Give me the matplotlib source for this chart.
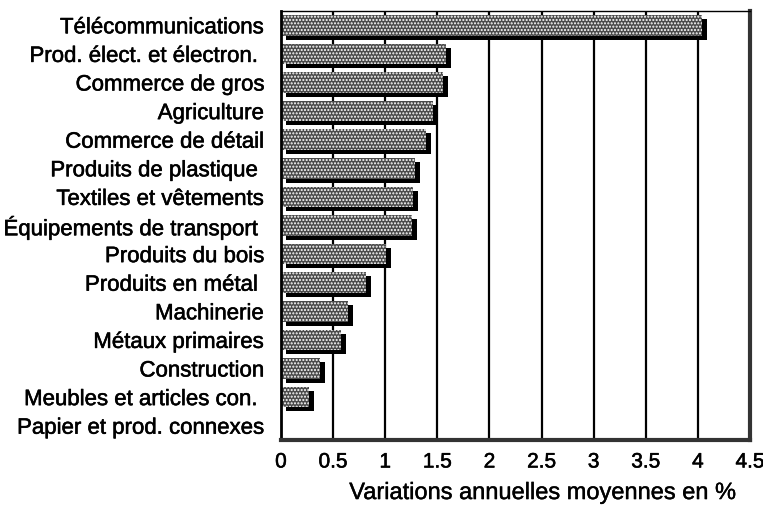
import matplotlib
matplotlib.use("Agg")
import matplotlib.pyplot as plt
import matplotlib.transforms as mtransforms
import matplotlib.patheffects as pe
import numpy as np

categories = [
    "Télécommunications",
    "Prod. élect. et électron. ",
    "Commerce de gros",
    "Agriculture",
    "Commerce de détail",
    "Produits de plastique ",
    "Textiles et vêtements",
    "Équipements de transport ",
    "Produits du bois",
    "Produits en métal ",
    "Machinerie",
    "Métaux primaires",
    "Construction",
    "Meubles et articles con. ",
    "Papier et prod. connexes",
]
values = [4.04, 1.58, 1.55, 1.46, 1.39, 1.29, 1.27, 1.26, 1.01, 0.82, 0.64, 0.58, 0.37, 0.27, 0.0]
xticks = [0, 0.5, 1, 1.5, 2, 2.5, 3, 3.5, 4, 4.5]
xticklabels = ["0", "0.5", "1", "1.5", "2", "2.5", "3", "3.5", "4", "4.5"]
xlabel = "Variations annuelles moyennes en %"

plt.rcParams['font.family'] = ['Liberation Sans', 'DejaVu Sans']
plt.rcParams['hatch.linewidth'] = 1.0

fig = plt.figure(figsize=(7.63, 5.06), dpi=100)
ax = fig.add_axes([281/763, 1-441/506, (750-281)/763, (441-12)/506])

y = np.arange(len(categories))
h = 0.72

# shadows
offset = mtransforms.ScaledTranslation(5/100, -4/100, fig.dpi_scale_trans)
shadows = ax.barh(y, values, height=h, color='black', linewidth=0, zorder=3)
for p in shadows:
    p.set_transform(ax.transData + offset)

bars = ax.barh(y, values, height=h, facecolor='#4a4a4a', edgecolor='white',
               hatch='.....', linewidth=0, zorder=4)

ax.set_ylim(len(categories) - 0.5, -0.5)
ax.set_xlim(0, 4.5)
ax.set_yticks(y)
ax.set_yticklabels(categories, fontsize=16)
ax.set_xticks(xticks)
ax.set_xticklabels(xticklabels, fontsize=15)
ax.tick_params(axis='both', length=0)
ax.tick_params(axis='y', pad=12)
ax.tick_params(axis='x', pad=9)

stroke = [pe.withStroke(linewidth=0.4, foreground='black')]
for t in ax.get_yticklabels() + ax.get_xticklabels():
    t.set_path_effects(stroke)

for xv in xticks[1:-1]:
    ax.axvline(xv, color='black', linewidth=1.6, zorder=1)

ax.spines['top'].set_linewidth(1.0)
ax.spines['left'].set_linewidth(2.0)
ax.spines['bottom'].set_linewidth(3.0)
ax.spines['right'].set_linewidth(3.0)
ax.spines['bottom'].set_color('#333333')
ax.spines['right'].set_color('#333333')
for s in ax.spines.values():
    s.set_zorder(6)

ax.set_xlabel(xlabel, fontsize=17)
ax.xaxis.set_label_coords((543-281)/469, -0.098)
ax.xaxis.label.set_va('top')
ax.xaxis.label.set_path_effects([pe.withStroke(linewidth=0.3, foreground='black')])

fig.savefig("out.png", dpi=100)
